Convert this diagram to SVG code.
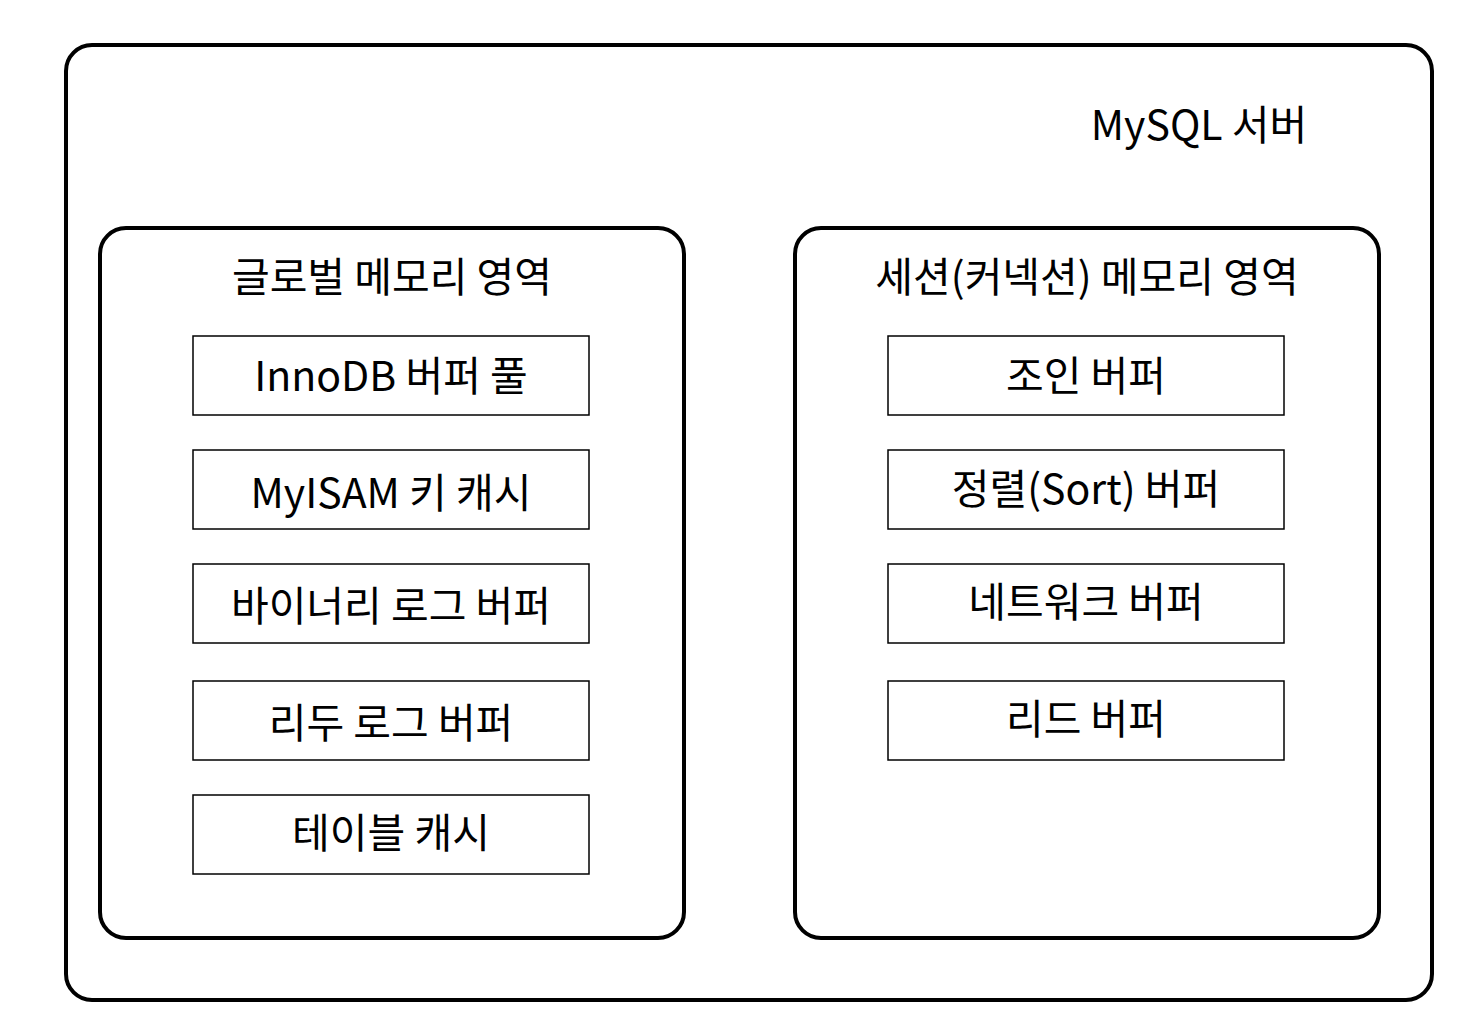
<svg xmlns="http://www.w3.org/2000/svg" width="1480" height="1036" viewBox="0 0 1480 1036">
<style>
.big{fill:#fff;stroke:#000;stroke-width:4}
.box{fill:#fff;stroke:#000;stroke-width:1.5}
text{font-family:"Noto Sans CJK KR","Noto Sans",sans-serif;font-size:41px;fill:#000;text-anchor:middle;dominant-baseline:central}
</style>
<rect width="1480" height="1036" fill="#fff"/>
<g id="server"><rect class="big" x="66" y="45" width="1366" height="955" rx="26"/><text x="1199" y="122">MySQL 서버</text></g>
<g id="global"><rect class="big" x="100" y="228" width="584" height="710" rx="26"/><text x="392" y="274">글로벌 메모리 영역</text></g>
<g id="session"><rect class="big" x="795" y="228" width="584" height="710" rx="26"/><text x="1087" y="274">세션(커넥션) 메모리 영역</text></g>
<g id="g1"><rect class="box" x="193" y="336" width="396" height="79"/><text x="391" y="373">InnoDB 버퍼 풀</text></g>
<g id="g2"><rect class="box" x="193" y="450" width="396" height="79"/><text x="391" y="490">MyISAM 키 캐시</text></g>
<g id="g3"><rect class="box" x="193" y="564" width="396" height="79"/><text x="391" y="603">바이너리 로그 버퍼</text></g>
<g id="g4"><rect class="box" x="193" y="681" width="396" height="79"/><text x="391" y="720">리두 로그 버퍼</text></g>
<g id="g5"><rect class="box" x="193" y="795" width="396" height="79"/><text x="391" y="830">테이블 캐시</text></g>
<g id="s1"><rect class="box" x="888" y="336" width="396" height="79"/><text x="1086" y="373">조인 버퍼</text></g>
<g id="s2"><rect class="box" x="888" y="450" width="396" height="79"/><text x="1086" y="486">정렬(Sort) 버퍼</text></g>
<g id="s3"><rect class="box" x="888" y="564" width="396" height="79"/><text x="1086" y="599">네트워크 버퍼</text></g>
<g id="s4"><rect class="box" x="888" y="681" width="396" height="79"/><text x="1086" y="716">리드 버퍼</text></g>
<g id="connectors"></g>
</svg>
